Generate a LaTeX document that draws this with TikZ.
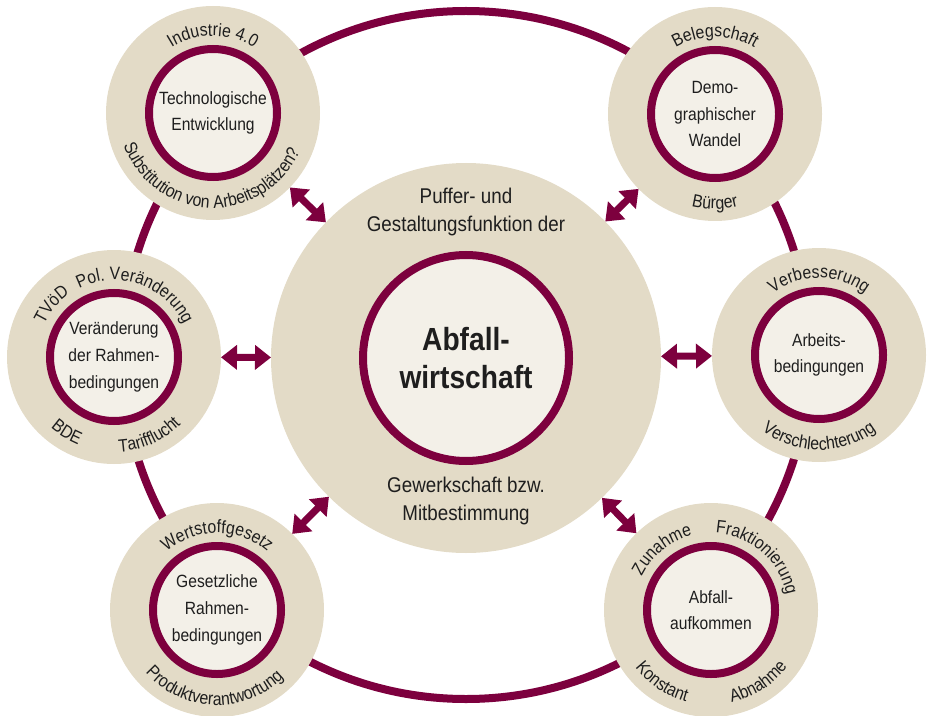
\documentclass[tikz,border=0pt]{standalone}
\usepackage{fontspec}
\setmainfont{Liberation Sans}[FakeStretch=0.88]
\usetikzlibrary{arrows.meta,decorations.text}
\definecolor{wine}{RGB}{125,0,62}
\definecolor{sand}{RGB}{227,219,199}
\definecolor{paper}{RGB}{243,240,232}
\definecolor{ink}{RGB}{30,30,30}
\newcommand\ringfont{\fontsize{13.5}{16}\selectfont\color{ink}}
\newcommand\toptext[3]{%
  \path[decorate,decoration={text along path,text align=center,text={|\ringfont|#3}}]
    (#1) ++({#2+80}:77) arc[start angle={#2+80},end angle={#2-80},radius=77];}
\newcommand\bottext[3]{%
  \path[decorate,decoration={text along path,text align=center,text={|\ringfont|#3}}]
    (#1) ++({#2-95}:95) arc[start angle={#2-95},end angle={#2+95},radius=95];}
\begin{document}
\begin{tikzpicture}[x=0.75pt,y=0.75pt,
  outer/.style={circle,fill=sand,draw=none,inner sep=0pt,outer sep=0pt},
  satout/.style={outer,minimum size=160.5pt},
  satin/.style={circle,draw=wine,line width=6pt,fill=paper,minimum size=96pt,
    inner sep=0pt,align=center,text=ink,font=\fontsize{13.3}{20}\selectfont},
  biarrow/.style={draw=wine,line width=5.25pt,
    {Triangle[width=18pt,length=12pt]}-{Triangle[width=18pt,length=12pt]}},
  ringline/.style={draw=wine,line width=6pt},
  midtext/.style={align=center,text=ink,font=\fontsize{16}{20.5}\selectfont}
]
\useasboundingbox (0,0) rectangle (930,715);
% connecting ring
\coordinate (ringc) at (466,360);
\draw[ringline] (ringc) circle[radius=344];
% satellites
\node[satout] (s1) at (213,602) {};
\node[satout] (s2) at (715,601) {};
\node[satout] (s3) at (114,358) {};
\node[satout] (s4) at (819,360) {};
\node[satout] (s5) at (217,105) {};
\node[satout] (s6) at (711,105) {};
\node[satin] (s1i) at (s1) {Technologische\\Entwicklung};
\node[satin] (s2i) at (s2) {Demo-\\graphischer\\Wandel};
\node[satin] (s3i) at (s3) {Veränderung\\der Rahmen-\\bedingungen};
\node[satin] (s4i) at (s4) {Arbeits-\\bedingungen};
\node[satin] (s5i) at (s5) {Gesetzliche\\Rahmen-\\bedingungen};
\node[satin] (s6i) at (s6) {Abfall-\\aufkommen};
% centre
\node[outer,minimum size=292.5pt] (c) at (466,357) {};
\node[circle,draw=wine,line width=6pt,fill=paper,minimum size=154.5pt,inner sep=0pt,
  align=center,text=ink,font=\bfseries\fontsize{24}{28.5}\selectfont] (ci) at (c) {Abfall-\\wirtschaft};
\node[midtext] (ctop) at (466,503) {Puffer- und\\Gestaltungsfunktion der};
\node[midtext] (cbot) at (466,214) {Gewerkschaft bzw.\\Mitbestimmung};
% arrows
\foreach \s in {s1,s2,s3,s4,s5,s6} \draw[biarrow] (c) -- (\s);
% ring texts
\toptext{s1}{90}{Industrie 4.0}
\bottext{s1}{268}{Substitution von Arbeitsplätzen?}
\toptext{s2}{90}{Belegschaft}
\bottext{s2}{270}{Bürger}
\toptext{s3}{140}{TVöD}
\toptext{s3}{71}{Pol. Veränderung}
\bottext{s3}{238}{BDE}
\bottext{s3}{294}{Tarifflucht}
\toptext{s4}{90}{Verbesserung}
\bottext{s4}{270}{Verschlechterung}
\toptext{s5}{90}{Wertstoffgesetz}
\bottext{s5}{268}{Produktverantwortung}
\toptext{s6}{129}{Zunahme}
\toptext{s6}{49}{Fraktionierung}
\bottext{s6}{236}{Konstant}
\bottext{s6}{303}{Abnahme}
\end{tikzpicture}
\end{document}
